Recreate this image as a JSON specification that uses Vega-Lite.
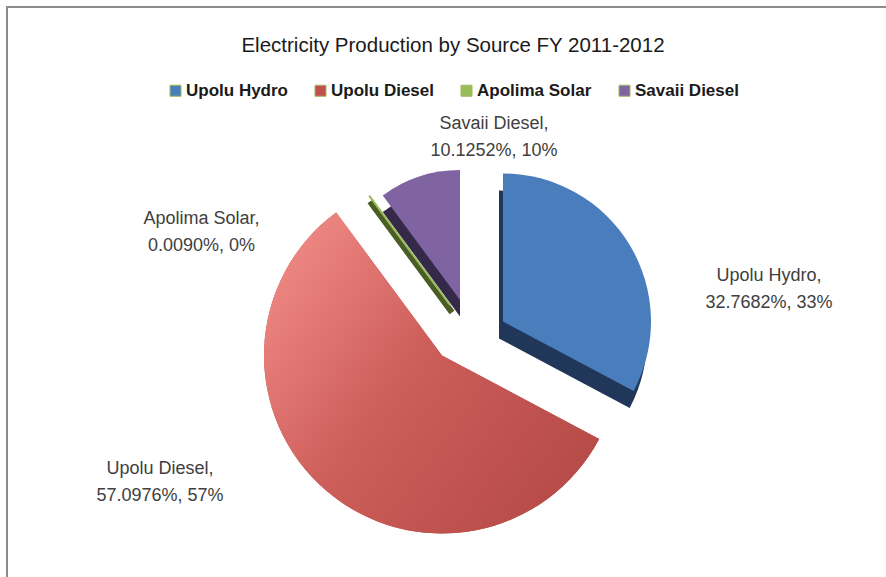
{
  "$schema": "https://vega.github.io/schema/vega-lite/v6.json",
  "width": 886,
  "height": 577,
  "autosize": {"type": "fit", "contains": "padding"},
  "padding": {"left": 6, "top": 6, "right": -2, "bottom": -2},
  "background": "white",
  "title": {
    "text": "Electricity Production by Source FY 2011-2012",
    "orient": "top",
    "frame": "group",
    "anchor": "middle",
    "offset": -50,
    "dx": 6,
    "font": "Liberation Sans",
    "fontSize": 20.5,
    "fontWeight": "normal",
    "color": "#1a1a1a"
  },
  "config": {"view": {"stroke": null}},
  "data": {
    "values": [
      {"source": "Upolu Hydro", "share": 32.7682},
      {"source": "Upolu Diesel", "share": 57.0976},
      {"source": "Apolima Solar", "share": 0.009},
      {"source": "Savaii Diesel", "share": 10.1252}
    ]
  },
  "transform": [
    {"window": [{"op": "row_number", "as": "ord"}]},
    {"stack": "share", "groupby": [], "sort": [{"field": "ord"}], "as": ["t0", "t1"]},
    {"calculate": "(datum.t0 + datum.t1) / 2", "as": "tm"},
    {"calculate": "datum.source + ',\\n' + format(datum.share, '.4f') + '%, ' + format(datum.share, '.0f') + '%'", "as": "label"}
  ],
  "layer": [
    {
      "mark": {"type": "rect", "fill": null, "stroke": "#8c8c8c", "strokeWidth": 2},
      "encoding": {
        "x": {"value": 0},
        "x2": {"value": "width"},
        "y": {"value": 0},
        "y2": {"value": "height"}
      }
    },
    {
      "transform": [{"filter": "datum.source === 'Upolu Hydro'"}],
      "mark": {"type": "arc", "outerRadius": 148, "fill": "#21375a", "xOffset": 52, "yOffset": 46},
      "encoding": {
        "theta": {"field": "t0", "type": "quantitative", "scale": {"domain": [0, 100]}},
        "theta2": {"field": "t1"}
      }
    },
    {
      "transform": [{"filter": "datum.source === 'Savaii Diesel'"}],
      "mark": {"type": "arc", "outerRadius": 130, "fill": "#35294a", "xOffset": 13, "yOffset": 24},
      "encoding": {
        "theta": {"field": "t0", "type": "quantitative", "scale": {"domain": [0, 100]}},
        "theta2": {"field": "t1"}
      }
    },
    {
      "transform": [{"filter": "datum.source === 'Apolima Solar'"}],
      "mark": {"type": "arc", "outerRadius": 135, "fill": "#4a5d24", "stroke": "#4a5d24", "strokeWidth": 6, "xOffset": 5, "yOffset": 20},
      "encoding": {
        "theta": {"field": "t0", "type": "quantitative", "scale": {"domain": [0, 100]}},
        "theta2": {"field": "t1"}
      }
    },
    {
      "transform": [{"filter": "datum.source === 'Upolu Hydro'"}],
      "mark": {"type": "arc", "outerRadius": 148, "xOffset": 56, "yOffset": 29},
      "encoding": {
        "theta": {"field": "t0", "type": "quantitative", "scale": {"domain": [0, 100]}},
        "theta2": {"field": "t1"},
        "color": {
          "field": "source", "type": "nominal",
          "scale": {"domain": ["Upolu Hydro", "Upolu Diesel", "Apolima Solar", "Savaii Diesel"], "range": ["#4a7dbb", "#c0504d", "#9bbb59", "#8064a2"]},
          "legend": {
            "orient": "none", "legendX": 160, "legendY": 75, "direction": "horizontal", "columns": 4,
            "title": null, "symbolType": "square", "symbolSize": 121, "symbolOpacity": 1,
            "symbolStrokeWidth": 1, "symbolStrokeColor": "#555555",
            "labelFont": "Liberation Sans", "labelFontSize": 17, "labelFontWeight": "bold", "labelColor": "#1a1a1a",
            "columnPadding": 24, "labelOffset": 2, "padding": 0
          }
        }
      }
    },
    {
      "transform": [{"filter": "datum.source === 'Upolu Diesel'"}],
      "mark": {"type": "arc", "outerRadius": 178, "xOffset": -5, "yOffset": 63},
      "encoding": {
        "theta": {"field": "t0", "type": "quantitative", "scale": {"domain": [0, 100]}},
        "theta2": {"field": "t1"},
        "color": {"field": "source", "type": "nominal"}
      }
    },
    {
      "transform": [{"filter": "datum.source === 'Upolu Diesel'"}],
      "mark": {
        "type": "arc", "outerRadius": 178, "xOffset": -5, "yOffset": 63,
        "fill": {"gradient": "linear", "x1": 0, "y1": 0.15, "x2": 1, "y2": 0.85,
          "stops": [{"offset": 0, "color": "#f08a86"}, {"offset": 0.45, "color": "#cd5e5a"}, {"offset": 1, "color": "#b44946"}]}
      },
      "encoding": {
        "theta": {"field": "t0", "type": "quantitative", "scale": {"domain": [0, 100]}},
        "theta2": {"field": "t1"}
      }
    },
    {
      "transform": [{"filter": "datum.source === 'Apolima Solar'"}],
      "mark": {"type": "arc", "outerRadius": 135, "stroke": "#9bbb59", "strokeWidth": 2, "xOffset": 3, "yOffset": 12.5},
      "encoding": {
        "theta": {"field": "t0", "type": "quantitative", "scale": {"domain": [0, 100]}},
        "theta2": {"field": "t1"},
        "color": {"field": "source", "type": "nominal"}
      }
    },
    {
      "transform": [{"filter": "datum.source === 'Savaii Diesel'"}],
      "mark": {"type": "arc", "outerRadius": 130, "xOffset": 13, "yOffset": 7.5},
      "encoding": {
        "theta": {"field": "t0", "type": "quantitative", "scale": {"domain": [0, 100]}},
        "theta2": {"field": "t1"},
        "color": {"field": "source", "type": "nominal"}
      }
    },
    {
      "transform": [{"filter": "datum.source === 'Upolu Hydro'"}],
      "mark": {"type": "text", "radius": 200, "dx": 150.6, "dy": 86.5, "lineBreak": "\n", "lineHeight": 27, "font": "Liberation Sans", "fontSize": 18, "color": "#404040", "align": "center", "baseline": "middle"},
      "encoding": {
        "theta": {"field": "tm", "type": "quantitative", "scale": {"domain": [0, 100]}},
        "text": {"field": "label", "type": "nominal"}
      }
    },
    {
      "transform": [{"filter": "datum.source === 'Upolu Diesel'"}],
      "mark": {"type": "text", "radius": 200, "dx": -156.5, "dy": 25, "lineBreak": "\n", "lineHeight": 27, "font": "Liberation Sans", "fontSize": 18, "color": "#404040", "align": "center", "baseline": "middle"},
      "encoding": {
        "theta": {"field": "tm", "type": "quantitative", "scale": {"domain": [0, 100]}},
        "text": {"field": "label", "type": "nominal"}
      }
    },
    {
      "transform": [{"filter": "datum.source === 'Apolima Solar'"}],
      "mark": {"type": "text", "radius": 200, "dx": -126.6, "dy": 87.3, "lineBreak": "\n", "lineHeight": 27, "font": "Liberation Sans", "fontSize": 18, "color": "#404040", "align": "center", "baseline": "middle"},
      "encoding": {
        "theta": {"field": "tm", "type": "quantitative", "scale": {"domain": [0, 100]}},
        "text": {"field": "label", "type": "nominal"}
      }
    },
    {
      "transform": [{"filter": "datum.source === 'Savaii Diesel'"}],
      "mark": {"type": "text", "radius": 200, "dx": 109.6, "dy": 21.5, "lineBreak": "\n", "lineHeight": 27, "font": "Liberation Sans", "fontSize": 18, "color": "#404040", "align": "center", "baseline": "middle"},
      "encoding": {
        "theta": {"field": "tm", "type": "quantitative", "scale": {"domain": [0, 100]}},
        "text": {"field": "label", "type": "nominal"}
      }
    }
  ]
}
